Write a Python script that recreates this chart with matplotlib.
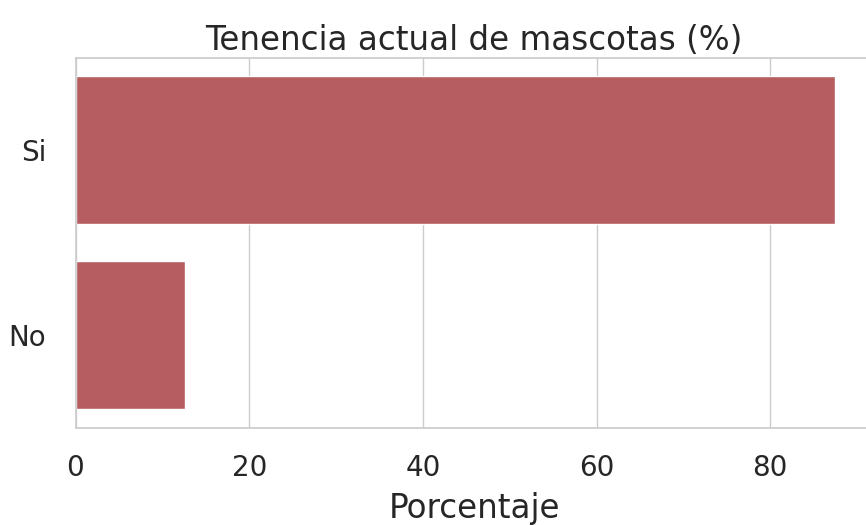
import pandas as pd
import matplotlib
matplotlib.use('Agg')
import matplotlib.pyplot as plt
import seaborn as sns

respuestas = ['Si', 'No']
porcentajes = [87.4, 12.6]

sns.set_theme(style='whitegrid', context='notebook', font_scale=1.5)
plt.rcParams['font.family'] = ['DejaVu Sans']

df = pd.DataFrame({'Respuesta': respuestas, 'Porcentaje': porcentajes})

fig = plt.figure(figsize=(8.66, 5.25), dpi=100)
ax = fig.add_axes([75.5 / 866, 1 - 428 / 525, 797 / 866, 370 / 525])
sns.barplot(data=df, x='Porcentaje', y='Respuesta', color='r', ax=ax)
ax.set_title('Tenencia actual de mascotas (%)', fontsize=23.5)
ax.set_xlabel('Porcentaje', fontsize=23.5, labelpad=7)
ax.set_ylabel('')
ax.tick_params(axis='x', labelsize=20, pad=13)
ax.tick_params(axis='y', labelsize=20, pad=15)
fig.savefig('out.png', dpi=100)
